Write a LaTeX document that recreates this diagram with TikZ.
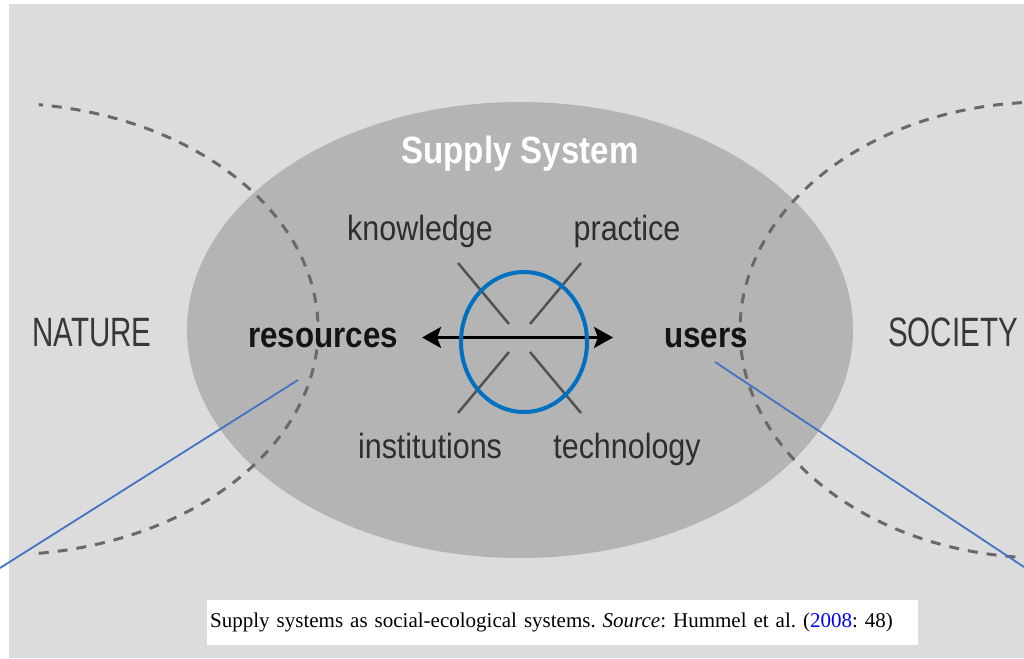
\documentclass[tikz,border=0pt]{standalone}
\usepackage{fontspec}
\setmainfont{Liberation Serif}
\newfontfamily\condsans[FakeStretch=0.87]{Liberation Sans}
\newfontfamily\capsans[FakeStretch=0.72]{Liberation Sans}
\usepackage{xcolor}
\usetikzlibrary{arrows.meta, positioning, calc}

\definecolor{bggray}{RGB}{220,220,220}
\definecolor{ovalgray}{RGB}{180,180,180}
\definecolor{dashgray}{RGB}{105,105,105}
\definecolor{markblue}{RGB}{0,112,192}
\definecolor{pointblue}{RGB}{68,114,196}

\begin{document}
\begin{tikzpicture}[x=1pt, y=-1pt,
    lbl/.style={font=\condsans\fontsize{35}{40}\selectfont, text=black!82, inner sep=0pt, anchor=base},
    key/.style={font=\condsans\bfseries\fontsize{36}{40}\selectfont, text=black!92, inner sep=0pt, anchor=base},
    realm/.style={font=\capsans\fontsize{41}{45}\selectfont, text=black!78, inner sep=0pt, anchor=base},
    bound/.style={draw=dashgray, line width=3pt, dash pattern=on 10pt off 9pt},
    link/.style={draw=black!68, line width=2.5pt},
    pointer/.style={draw=pointblue, line width=1.8pt}]
    \useasboundingbox (0,0) rectangle (1024,658);
    \fill[bggray] (9,4) rectangle (1024,658);
    \fill[ovalgray] (520,330) ellipse[x radius=333, y radius=228];

    \begin{scope}
        \clip (9,4) rectangle (1024,658);
        \draw[bound] (0,329) ++(83:318 and 226) arc[start angle=83, end angle=-83, x radius=318, y radius=226];
        \draw[bound] (1045,330) ++(92:305 and 228) arc[start angle=92, end angle=268, x radius=305, y radius=228];
    \end{scope}

    \node[font=\condsans\bfseries\fontsize{38}{42}\selectfont, text=white, inner sep=0pt, anchor=base] (title) at (520,163) {Supply System};
    \node[realm] (nature) at (92,346) {NATURE};
    \node[realm] (society) at (953,346) {SOCIETY};
    \node[key] (res) at (323,347) {resources};
    \node[key] (users) at (706,347) {users};
    \node[lbl] (know) at (420,240) {knowledge};
    \node[lbl] (prac) at (627,240) {practice};
    \node[lbl] (inst) at (430,458) {institutions};
    \node[lbl] (tech) at (627,458) {technology};

    \coordinate (hub) at (519.5,338);
    \foreach \sx in {-1,1}
        \foreach \sy in {-1,1}
            \draw[link] ($(hub)+(\sx*10.5,\sy*14)$) -- ($(hub)+(\sx*61.5,\sy*75)$);
    \draw[line width=3.2pt, {Stealth[length=19pt,width=21pt,inset=4pt]}-{Stealth[length=19pt,width=21pt,inset=4pt]}]
        ([xshift=24pt]res.east) -- ([xshift=-51pt]users.west);

    \draw[markblue, line width=4pt] (524,342) ellipse[x radius=63, y radius=70];

    \coordinate (resTip) at (298,380);
    \coordinate (resEnd) at (0,568);
    \coordinate (userTip) at (715,362);
    \coordinate (userEnd) at (1024,567);
    \draw[pointer] (resTip) -- (resEnd);
    \draw[pointer] (userTip) -- (userEnd);

    \node[fill=white, anchor=west, inner xsep=3pt, inner ysep=0pt, text width=705pt, minimum height=45pt, align=left,
        font=\fontsize{21}{24}\selectfont] (caption) at (207,622.5)
        {\frenchspacing Supply systems as social-ecological systems. \textit{Source}: Hummel et al. (\textcolor{blue}{2008}: 48)};
\end{tikzpicture}
\end{document}
